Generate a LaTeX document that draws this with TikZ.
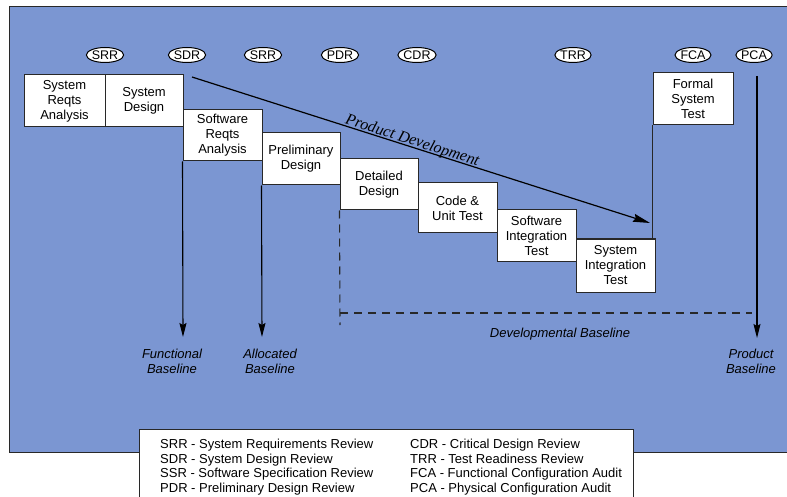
\documentclass[tikz,border=0pt]{standalone}
\usepackage{fontspec}
\setmainfont{Liberation Sans}
\newfontfamily\pdserif{Liberation Serif}
\usetikzlibrary{arrows.meta,shapes.geometric}
\definecolor{bgblue}{RGB}{123,150,210}
\definecolor{edge}{RGB}{40,40,40}
\begin{document}
\begin{tikzpicture}[x=1pt,y=-1pt,
  procbox/.style={draw=edge, fill=white, line width=1pt, inner sep=0pt, align=center,
    font=\fontsize{13}{15}\selectfont},
  review/.style={ellipse, draw=black, fill=white, line width=1pt, inner sep=0pt,
    minimum width=36pt, minimum height=15pt, font=\fontsize{12.5}{13}\selectfont},
  arr/.style={line width=1.1pt, -{Stealth[length=14pt,width=7pt,inset=2pt]}},
  baselbl/.style={align=center, font=\fontsize{13}{15}\selectfont\itshape, inner sep=0pt},
  legtext/.style={anchor=base west, inner sep=0pt, font=\fontsize{13}{15}\selectfont}]
\useasboundingbox (0,0) rectangle (787,497);
\clip (0,0) rectangle (787,497);
% background panel
\draw[fill=bgblue, draw=edge, line width=1pt] (9,7) rectangle (800,452);
% review ovals
\node[review] (r1) at (105,55) {SRR};
\node[review] (r2) at (187,55) {SDR};
\node[review] (r3) at (263,55) {SRR};
\node[review] (r4) at (340,55) {PDR};
\node[review] (r5) at (417,55) {CDR};
\node[review] (r6) at (573,55) {TRR};
\node[review] (r7) at (693,55) {FCA};
\node[review] (r8) at (754,55) {PCA};
% process boxes
\node[procbox, minimum width=81pt, minimum height=52pt] (b1) at (64.5,101) {System\\Reqts\\Analysis};
\node[procbox, minimum width=78pt, minimum height=52pt] (b2) at (144,101) {System\\Design};
\node[procbox, minimum width=79pt, minimum height=51pt] (b3) at (222.5,135.5) {Software\\Reqts\\Analysis};
\node[procbox, minimum width=78pt, minimum height=52pt] (b4) at (301,159) {Preliminary\\Design};
\node[procbox, minimum width=78pt, minimum height=51pt] (b5) at (379,184.5) {Detailed\\Design};
\node[procbox, minimum width=79pt, minimum height=50pt] (b6) at (457.5,208) {Code \&\\Unit Test};
\node[procbox, minimum width=79pt, minimum height=51pt] (b7) at (536.5,235.5) {Software\\Integration\\Test};
\node[procbox, minimum width=79pt, minimum height=53pt] (b8) at (615.5,265.5) {System\\Integration\\Test};
\node[procbox, minimum width=80pt, minimum height=52pt] (b9) at (693,99) {Formal\\System\\Test};
% connector from system integration test up to formal system test
\draw[edge, line width=1.1pt] (b9.south west) -- (b9.south west |- b8.north);
% product development arrow
\coordinate (pdS) at (192,77);
\coordinate (pdE) at (650,223);
\draw[line width=1.2pt, -{Stealth[length=17pt,width=8pt,inset=2pt]}] (pdS) --
  node[sloped, pos=0.477, anchor=base, inner sep=0pt, font=\pdserif\itshape\fontsize{16}{16}\selectfont]
  {\raisebox{2pt}{Product Development}} (pdE);
% baseline arrows
\coordinate (fbE) at (183,337);
\coordinate (abE) at (262,337);
\coordinate (pbS) at (757,76);
\coordinate (pbE) at (757,338);
\draw[arr] (b3.south west) -- (fbE);
\draw[arr] (b4.south west) -- (abE);
\draw[arr] (pbS) -- (pbE);
% developmental baseline dashes
\coordinate (dvB) at (340,325);
\coordinate (dhS) at (340,313);
\coordinate (dhE) at (752,313);
\draw[edge, line width=1.1pt, dash pattern=on 8pt off 6pt] (b5.south west) -- (dvB);
\draw[edge, line width=1.1pt, dash pattern=on 8pt off 6pt] (dhS) -- (dhE);
% baseline labels
\node[baselbl] (fb) at (172,361) {Functional\\Baseline};
\node[baselbl] (ab) at (270,361) {Allocated\\Baseline};
\node[baselbl] (db) at (560,334) {Developmental Baseline};
\node[baselbl] (pb) at (751,361) {Product\\Baseline};
% legend
\draw[fill=white, draw=edge, line width=1pt] (139,429) rectangle (633,510);
\node[legtext] (l1) at (160,448.6) {SRR - System Requirements Review};
\node[legtext] (l2) at (160,463.2) {SDR - System Design Review};
\node[legtext] (l3) at (160,477.8) {SSR - Software Specification Review};
\node[legtext] (l4) at (160,492.6) {PDR - Preliminary Design Review};
\node[legtext] (l5) at (410,448.6) {CDR - Critical Design Review};
\node[legtext] (l6) at (410,463.2) {TRR - Test Readiness Review};
\node[legtext] (l7) at (410,477.8) {FCA - Functional Configuration Audit};
\node[legtext] (l8) at (410,492.6) {PCA - Physical Configuration Audit};
\end{tikzpicture}
\end{document}
